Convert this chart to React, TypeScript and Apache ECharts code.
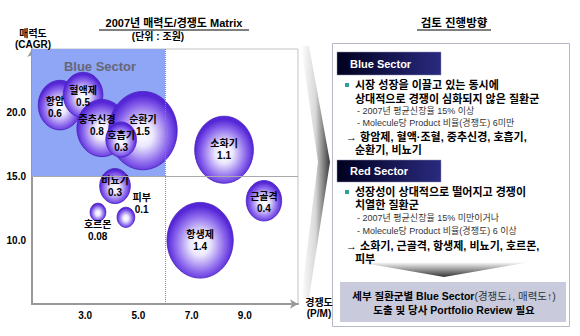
import React, { useEffect, useRef } from "react";
import * as echarts from "echarts";

// ---- data ----
const names = ["항암", "혈액제", "중추신경", "순환기", "호흡기", "소화기", "근골격", "비뇨기", "피부", "호르몬", "항생제"];
const competition = [2.05, 2.92, 3.63, 5.17, 4.35, 8.22, 9.72, 4.12, 4.53, 3.48, 7.32]; // 경쟁도 (P/M)
const attractiveness = [20.6, 21.4, 18.8, 18.6, 17.9, 17.1, 13.1, 14.25, 11.8, 12.2, 10.0]; // 매력도 (CAGR)
const marketSize = [0.6, 0.5, 0.8, 1.5, 0.3, 1.1, 0.4, 0.3, 0.1, 0.08, 1.4]; // 조원
const xTickLabels = [3, 5, 7, 9];
const yTickLabels = [10, 15, 20];
const blueSectorMaxX = 6;
const blueSectorMinY = 15;

const FONT = '"Liberation Sans", Arial, "Noto Sans CJK KR", sans-serif';

const labelOverrides: Record<string, any> = {
  항암: { offset: [-5, 2] },
  혈액제: { offset: [0, 2] },
  중추신경: { offset: [-5, -3] },
  순환기: { offset: [0, -5] },
  호흡기: { offset: [0, 2] },
  근골격: { offset: [0, 2] },
  피부: { position: [25, -3], align: "center", verticalAlign: "middle" },
  호르몬: { position: [8, 28], align: "center", verticalAlign: "middle" },
};

function txt(x: number, y: number, text: string, font: string, opts: any = {}) {
  return {
    type: "text",
    x,
    y,
    z: 10,
    style: {
      text,
      font,
      fill: opts.fill || "#000",
      align: opts.align || "left",
      verticalAlign: "middle",
      textAlign: opts.align || "left",
      textVerticalAlign: "middle",
    },
  };
}

export default function App() {
  const ref = useRef<HTMLDivElement>(null);

  useEffect(() => {
    if (!ref.current) return;
    const chart = echarts.init(ref.current, undefined, { renderer: "svg" });

    const bubbleFill = {
      type: "radial",
      x: 0.5,
      y: 0.55,
      r: 0.5,
      colorStops: [
        { offset: 0, color: "#ffffff" },
        { offset: 0.3, color: "#ece8fd" },
        { offset: 0.75, color: "#8a66ec" },
        { offset: 1, color: "#5526d6" },
      ],
    };

    const data = names.map((n, i) => ({
      name: n,
      value: [competition[i], attractiveness[i], marketSize[i]],
      label: labelOverrides[n] || {},
    }));

    const bold11 = `bold 11px ${FONT}`;
    const reg9 = `9px ${FONT}`;
    const headerFill = new echarts.graphic.LinearGradient(0, 0, 1, 0, [
      { offset: 0, color: "#00001e" },
      { offset: 1, color: "#2a2a80" },
    ]);

    const graphic: any[] = [
      // left title
      txt(174, 23, "2007년 매력도/경쟁도 Matrix", `bold 11px ${FONT}`, { align: "center" }),
      { type: "line", z: 10, shape: { x1: 99, y1: 30, x2: 249, y2: 30 }, style: { stroke: "#000", lineWidth: 1 } },
      txt(158, 36, "(단위 : 조원)", `bold 10px ${FONT}`, { align: "center" }),
      txt(33, 33, "매력도", `bold 10px ${FONT}`, { align: "center" }),
      txt(33, 44, "(CAGR)", `bold 10px ${FONT}`, { align: "center" }),
      txt(319, 302, "경쟁도", `bold 10px ${FONT}`, { align: "center" }),
      txt(319, 313, "(P/M)", `bold 10px ${FONT}`, { align: "center" }),
      txt(100, 66, "Blue Sector", `bold 13px ${FONT}`, { align: "center", fill: "#666677" }),

      // right title
      txt(454, 23, "검토 진행방향", `bold 11.5px ${FONT}`, { align: "center" }),
      { type: "line", z: 10, shape: { x1: 417, y1: 30, x2: 491, y2: 30 }, style: { stroke: "#000", lineWidth: 1 } },

      // chevron between the two parts
      {
        type: "polygon",
        z: 9,
        shape: { points: [[301, 46], [309, 46], [330, 162], [309, 298], [301, 298], [318, 162]] },
        style: {
          fill: new echarts.graphic.LinearGradient(301, 0, 330, 0, [
            { offset: 0, color: "#ffffff" },
            { offset: 0.5, color: "#d8d8d8" },
            { offset: 1, color: "#3a3a3a" },
          ], true),
        },
      },

      // panel
      { type: "rect", z: 8, shape: { x: 332.5, y: 43.5, width: 237, height: 283 }, style: { fill: "#fff", stroke: "#b8b8c8", lineWidth: 1 } },

      // Blue Sector header
      { type: "rect", z: 9, shape: { x: 337, y: 52, width: 104, height: 23 }, style: { fill: headerFill, stroke: "#9090b0", lineWidth: 0.5 } },
      txt(350, 64, "Blue Sector", bold11, { fill: "#fff" }),
      { type: "rect", z: 10, shape: { x: 345, y: 83, width: 4, height: 4 }, style: { fill: "#2f9f9a" } },
      txt(355, 85, "시장 성장을 이끌고 있는 동시에", bold11),
      txt(355, 99, "상대적으로 경쟁이 심화되지 않은 질환군", bold11),
      txt(357, 111, "- 2007년 평균신장율 15% 이상", reg9, { fill: "#333" }),
      txt(357, 123, "- Molecule당 Product 비율(경쟁도) 6미만", reg9, { fill: "#333" }),
      txt(346, 137, "→ 항암제, 혈액·조혈, 중추신경, 호흡기,", bold11),
      txt(355, 150, "순환기, 비뇨기", bold11),

      // Red Sector header
      { type: "rect", z: 9, shape: { x: 337, y: 160, width: 104, height: 22 }, style: { fill: headerFill, stroke: "#9090b0", lineWidth: 0.5 } },
      txt(350, 171, "Red Sector", bold11, { fill: "#fff" }),
      { type: "rect", z: 10, shape: { x: 345, y: 190, width: 4, height: 4 }, style: { fill: "#2f9f9a" } },
      txt(355, 192, "성장성이 상대적으로 떨어지고 경쟁이", bold11),
      txt(355, 205, "치열한 질환군", bold11),
      txt(357, 218, "- 2007년 평균신장율 15% 미만이거나", reg9, { fill: "#333" }),
      txt(357, 231, "- Molecule당 Product 비율(경쟁도) 6 이상", reg9, { fill: "#333" }),
      txt(346, 246, "→ 소화기, 근골격, 항생제, 비뇨기, 호르몬,", bold11),
      txt(355, 259, "피부", bold11),

      // downward arrow
      {
        type: "polygon",
        z: 9,
        shape: { points: [[358, 262], [530, 262], [444, 277]] },
        style: {
          fill: new echarts.graphic.LinearGradient(0, 262, 0, 277, [
            { offset: 0, color: "#ffffff" },
            { offset: 1, color: "#333333" },
          ], true),
        },
      },

      // conclusion box
      { type: "rect", z: 9, shape: { x: 340, y: 282, width: 226, height: 40 }, style: { fill: "#c9cbdc" } },
      {
        type: "text",
        x: 454,
        y: 296,
        z: 10,
        style: {
          text: "{b|세부 질환군별 Blue Sector}{n|(경쟁도↓, 매력도↑)}",
          align: "center",
          verticalAlign: "middle",
          textAlign: "center",
          textVerticalAlign: "middle",
          rich: {
            b: { fontFamily: FONT, fontWeight: "bold", fontSize: 10.5, fill: "#000" },
            n: { fontFamily: FONT, fontWeight: "normal", fontSize: 10.5, fill: "#333" },
          },
        },
      },
      txt(454, 310, "도출 및 당사 Portfolio Review 필요", `bold 10.5px ${FONT}`, { align: "center" }),
    ];

    const axisLine = {
      show: true,
      symbol: ["none", "arrow"],
      symbolSize: [7, 8],
      lineStyle: { color: "#999", width: 2 },
    };
    const axisLabelBase = { color: "#000", fontWeight: "bold", fontSize: 10, fontFamily: FONT, margin: 6 };

    chart.setOption({
      animation: false,
      backgroundColor: "#fff",
      textStyle: { fontFamily: FONT },
      grid: {
        left: 32,
        right: 282,
        top: 49,
        bottom: 32,
        show: true,
        borderColor: "#c4c4c4",
        borderWidth: 1,
        backgroundColor: "#fff",
      },
      xAxis: {
        type: "value",
        min: 1,
        max: 11,
        interval: 1,
        axisLine,
        axisTick: { show: false },
        splitLine: { show: false },
        axisLabel: {
          ...axisLabelBase,
          formatter: (v: number) => (xTickLabels.includes(v) ? v.toFixed(1) : ""),
        },
      },
      yAxis: {
        type: "value",
        min: 5,
        max: 25,
        interval: 5,
        axisLine,
        axisTick: { show: false },
        splitLine: { show: false },
        axisLabel: {
          ...axisLabelBase,
          formatter: (v: number) => (yTickLabels.includes(v) ? v.toFixed(1) : ""),
        },
      },
      graphic,
      series: [
        {
          type: "scatter",
          data,
          symbol: "circle",
          symbolSize: (val: number[]) => [56 * Math.sqrt(val[2]), 64 * Math.sqrt(val[2])],
          itemStyle: { color: bubbleFill as any, borderColor: "#4a20c0", borderWidth: 0.8, opacity: 1 },
          label: {
            show: true,
            position: "inside",
            formatter: (p: any) => `${p.name}\n${p.value[2]}`,
            color: "#000",
            fontWeight: "bold",
            fontSize: 10,
            fontFamily: FONT,
            lineHeight: 12,
          },
          emphasis: { disabled: true },
          markArea: {
            silent: true,
            itemStyle: { color: "#8fa5f5" },
            data: [[{ coord: [1, blueSectorMinY] }, { coord: [blueSectorMaxX, 25] }]],
          },
          markLine: {
            silent: true,
            symbol: ["none", "none"],
            label: { show: false },
            data: [
              { xAxis: blueSectorMaxX, lineStyle: { type: "dotted", color: "#888", width: 1 } },
              { yAxis: blueSectorMinY, lineStyle: { type: "solid", color: "#aaa", width: 1 } },
            ],
          },
        },
      ],
    });

    return () => chart.dispose();
  }, []);

  return (
    <div
      ref={ref}
      style={{ position: "absolute", left: 0, top: 0, width: 580, height: 336 }}
    />
  );
}
